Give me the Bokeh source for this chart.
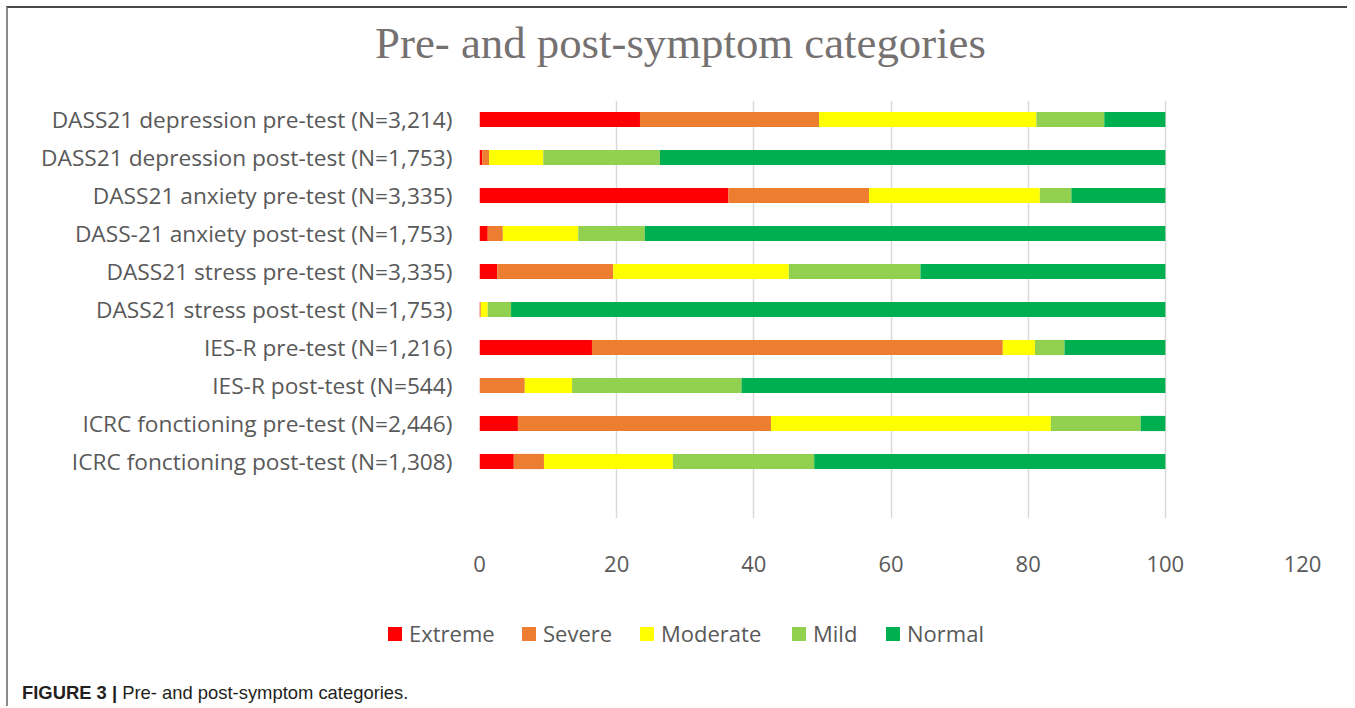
from bokeh.plotting import figure
from bokeh.models import ColumnDataSource, Range1d, FixedTicker, Div
from bokeh.layouts import column
from bokeh.embed import file_html
from bokeh.resources import INLINE

# ---------------- data (top row first) ----------------
categories = [
    "DASS21 depression pre-test (N=3,214)",
    "DASS21 depression post-test (N=1,753)",
    "DASS21 anxiety pre-test (N=3,335)",
    "DASS-21 anxiety post-test (N=1,753)",
    "DASS21 stress pre-test (N=3,335)",
    "DASS21 stress post-test (N=1,753)",
    "IES-R pre-test (N=1,216)",
    "IES-R post-test (N=544)",
    "ICRC fonctioning pre-test (N=2,446)",
    "ICRC fonctioning post-test (N=1,308)",
]
extreme = [23.4, 0.4, 36.3, 1.2, 2.6, 0.1, 16.4, 0.0, 5.6, 5.0]
severe = [26.1, 1.0, 20.5, 2.2, 16.9, 0.1, 59.9, 6.6, 36.9, 4.4]
moderate = [31.7, 7.9, 24.9, 11.0, 25.6, 1.0, 4.7, 6.9, 40.8, 18.8]
mild = [9.9, 17.0, 4.6, 9.7, 19.2, 3.4, 4.3, 24.7, 13.1, 20.6]
normal = [8.9, 73.7, 13.7, 75.9, 35.7, 95.4, 14.7, 61.8, 3.6, 51.2]
series_names = ["Extreme", "Severe", "Moderate", "Mild", "Normal"]
colors = ["#FF0000", "#ED7D31", "#FFFF00", "#92D050", "#00B050"]
x_ticks = [0, 20, 40, 60, 80, 100, 120]

title_text = "Pre- and post-symptom categories"
caption_bold = "FIGURE 3 |"
caption_text = "Pre- and post-symptom categories."

# ---------------- layout / styling ----------------
n = len(categories)
ypos = [n - i for i in range(n)]  # one empty slot kept at the bottom, as in the original
src = ColumnDataSource(dict(y=ypos, Extreme=extreme, Severe=severe,
                            Moderate=moderate, Mild=mild, Normal=normal))

W = 1339
TITLE_H = 80
ML, MR, MT, MB = 471, 45, 12, 82
FH = 418
H = MT + FH + MB
LEG_H = 66
CAP_H = 40
legend_item_left = [380, 514, 632, 784, 878]   # px offsets of the legend swatches

TEXT = "#595959"
FONT = "Open Sans"

title_div = Div(text=f'<div style="box-sizing:border-box;width:{W}px;font-family:\'Liberation Serif\';'
                     f'font-size:44.8px;color:#757171;text-align:center;padding-top:11px;padding-left:6px;'
                     f'line-height:1.1;white-space:nowrap;">{title_text}</div>',
                width=W, height=TITLE_H, margin=0)

p = figure(width=W, height=H, x_range=Range1d(0, 120), y_range=Range1d(-0.5, n + 0.5),
           output_backend="svg", toolbar_location=None, margin=0,
           min_border_left=ML, min_border_right=MR, min_border_top=MT, min_border_bottom=MB)

p.hbar_stack(series_names, y="y", height=0.4, color=colors, source=src, line_width=0)

p.outline_line_color = None

# x axis
p.xaxis.ticker = FixedTicker(ticks=x_ticks)
p.xaxis.axis_line_color = None
p.xaxis.major_tick_line_color = None
p.xaxis.minor_tick_line_color = None
p.xaxis.major_label_text_font = FONT
p.xaxis.major_label_text_font_size = "22px"
p.xaxis.major_label_text_color = TEXT
p.xaxis.major_label_standoff = 31

# y axis
p.yaxis.ticker = FixedTicker(ticks=ypos)
p.yaxis.major_label_overrides = {y: c for y, c in zip(ypos, categories)}
p.yaxis.axis_line_color = None
p.yaxis.major_tick_line_color = None
p.yaxis.minor_tick_line_color = None
p.yaxis.major_label_text_font = FONT
p.yaxis.major_label_text_font_size = "22.7px"
p.yaxis.major_label_text_color = TEXT
p.yaxis.major_label_standoff = 21

p.ygrid.grid_line_color = None
p.xgrid.ticker = FixedTicker(ticks=x_ticks)
p.xgrid.grid_line_color = "#D9D9D9"
p.xgrid.grid_line_width = 1.5

# legend strip
items_html = "".join(
    f'<div style="position:absolute;left:{lx}px;top:18px;height:30px;line-height:30px;white-space:nowrap;">'
    f'<span style="display:inline-block;width:14px;height:14px;background:{c};margin-right:7px;'
    f'vertical-align:middle;position:relative;top:-2px;"></span>{nm}</div>'
    for nm, c, lx in zip(series_names, colors, legend_item_left))
legend_div = Div(text=f'<div style="position:relative;width:{W}px;height:{LEG_H}px;font-family:\'{FONT}\';'
                      f'font-size:22px;color:{TEXT};">{items_html}</div>',
                 width=W, height=LEG_H, margin=0)

cap_div = Div(text=f'<div style="font-family:\'Liberation Sans\';font-size:18.4px;color:#231F20;'
                   f'padding-left:14px;padding-top:14px;white-space:nowrap;">'
                   f'<b>{caption_bold}</b> {caption_text}</div>',
              width=W, height=CAP_H, margin=0)

layout = column(title_div, p, legend_div, cap_div, spacing=0)
layout.styles = {"margin-left": "6px", "margin-top": "6px",
                 "border-top": "2px solid #4a4a4a", "border-left": "2px solid #8a8a8a"}

open("out.html", "w").write(file_html(layout, INLINE))
